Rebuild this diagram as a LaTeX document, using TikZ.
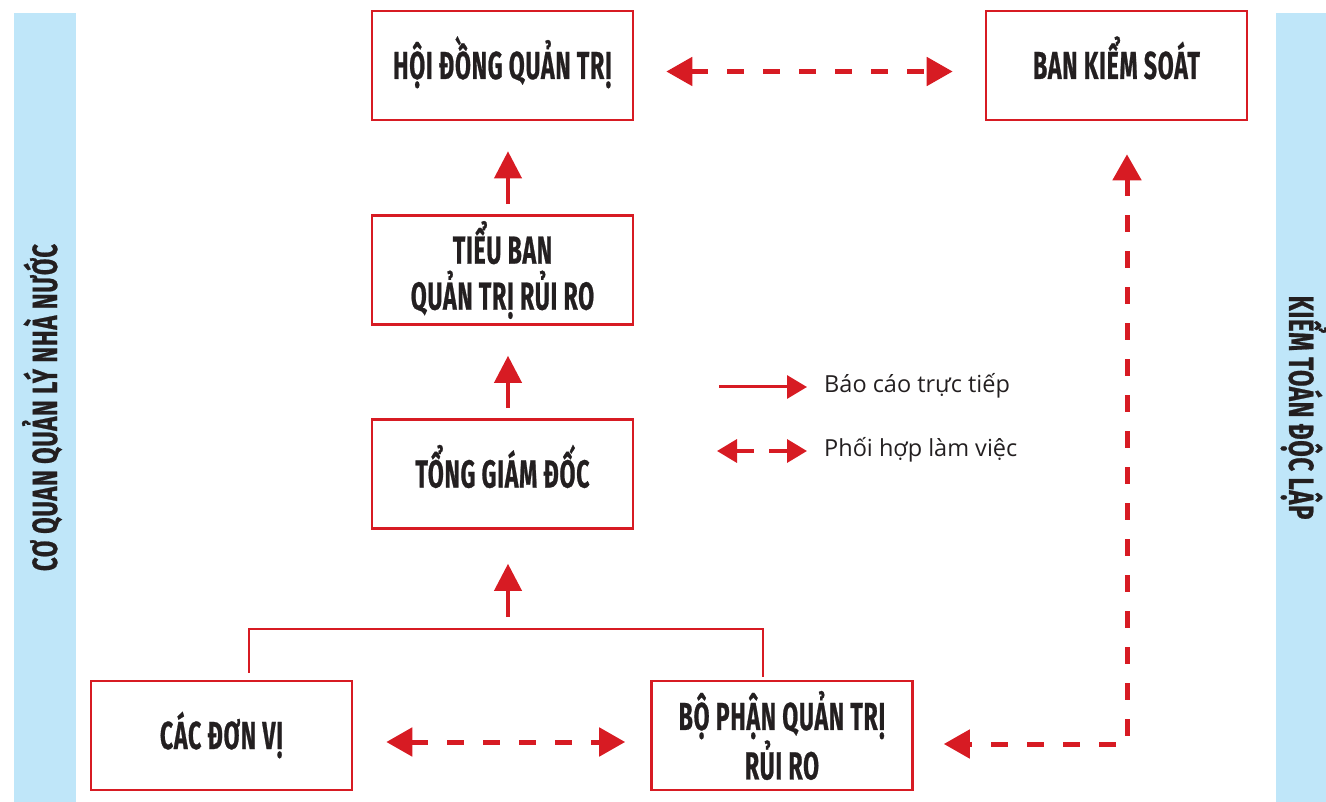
\documentclass[tikz,border=0pt]{standalone}
\usepackage{fontspec}
\usetikzlibrary{arrows.meta}
\setmainfont{Open Sans}
\newfontfamily\condfont[FakeStretch=0.59,FakeBold=0.6,LetterSpace=2.0]{Fira Sans}
\newfontfamily\barfont[FakeStretch=0.68,FakeBold=0.6,LetterSpace=2.0]{Fira Sans}
\definecolor{rred}{RGB}{215,27,35}
\definecolor{barblue}{RGB}{191,230,249}
\definecolor{ink}{RGB}{35,31,32}
\begin{document}
\begin{tikzpicture}[x=1pt,y=-1pt,
  box/.style={draw=rred,line width=2.6pt,minimum width=261pt,minimum height=109pt,
    align=center,inner sep=0pt,text=ink,font=\condfont\bfseries\fontsize{39}{46}\selectfont},
  oneline/.style={box,text height=27pt,text depth=0pt},
  bar/.style={fill=barblue,inner sep=0pt,text=ink,text height=24pt,text depth=0pt,
    font=\barfont\bfseries\fontsize{35}{40}\selectfont},
  uparrow/.style={draw=rred,line width=4pt,-{Triangle[length=27pt,width=27pt]}},
  dasharrow/.style={draw=rred,line width=5pt,dash pattern=on 17pt off 19pt,
    {Triangle[length=26pt,width=28pt]}-{Triangle[length=26pt,width=28pt]}},
  bracket/.style={draw=rred,line width=2.5pt},
  legtext/.style={anchor=west,inner sep=0pt,text=ink,font=\fontsize{23.5}{28}\selectfont}]
\useasboundingbox (0,0) rectangle (1326,802);
% side bars
\node[bar,rotate=90,minimum width=789pt,minimum height=62pt] (leftbar) at (45,407.5) {CƠ QUAN QUẢN LÝ NHÀ NƯỚC};
\node[bar,rotate=-90,minimum width=789pt,minimum height=50pt] (rightbar) at (1301,407.5) {KIỂM TOÁN ĐỘC LẬP};
% boxes
\node[oneline] (hdqt) at (502.5,65.5) {HỘI ĐỒNG QUẢN TRỊ};
\node[oneline] (bks) at (1116.5,65.5) {BAN KIỂM SOÁT};
\node[box] (tb) at (502.5,270) {TIỂU BAN\\QUẢN TRỊ RỦI RO};
\node[oneline] (tgd) at (502.5,474) {TỔNG GIÁM ĐỐC};
\node[oneline] (cdv) at (221.5,735.5) {CÁC ĐƠN VỊ};
\node[box] (bp) at (782,735.5) {BỘ PHẬN QUẢN TRỊ\\RỦI RO};
% bracket
\coordinate (bl) at ([xshift=27.5pt,yshift=7pt]cdv.north);
\coordinate (br) at ([xshift=-19pt,yshift=3pt]bp.north);
\coordinate (bm) at (508,629);
\draw[bracket] (bl) |- (bm) -| (br);
% solid up arrows
\draw[uparrow,shorten <=12pt,shorten >=34pt] (bm) -- (bm |- tgd.south);
\draw[uparrow,shorten <=10pt,shorten >=30pt] ([xshift=5.5pt]tgd.north) -- ([xshift=5.5pt]tb.south);
\draw[uparrow,shorten <=10pt,shorten >=30pt] ([xshift=5.5pt]tb.north) -- ([xshift=5.5pt]hdqt.south);
% dashed arrows
\draw[dasharrow,shorten <=32pt,shorten >=32pt] ([yshift=-6pt]hdqt.east) -- ([yshift=-6pt]bks.west);
\draw[dasharrow,shorten <=33pt,shorten >=25pt] ([yshift=-6.5pt]cdv.east) -- ([yshift=-6.5pt]bp.west);
\draw[dasharrow,shorten <=33pt,shorten >=30pt] ([xshift=10.5pt]bks.south) |- ([yshift=-8.5pt]bp.east);
% legend
\coordinate (l1a) at (719,387);
\coordinate (l1b) at (807,387);
\draw[draw=rred,line width=3pt,-{Triangle[length=20pt,width=23pt]}] (l1a) -- (l1b);
\node[legtext] (leg1) at (824,386) {Báo cáo trực tiếp};
\coordinate (l2a) at (717,451);
\coordinate (l2b) at (807,451);
\draw[draw=rred,line width=3.5pt,dash pattern=on 18pt off 15pt,
  {Triangle[length=20pt,width=23pt]}-{Triangle[length=20pt,width=23pt]}] (l2a) -- (l2b);
\node[legtext] (leg2) at (824,450) {Phối hợp làm việc};
\end{tikzpicture}
\end{document}
